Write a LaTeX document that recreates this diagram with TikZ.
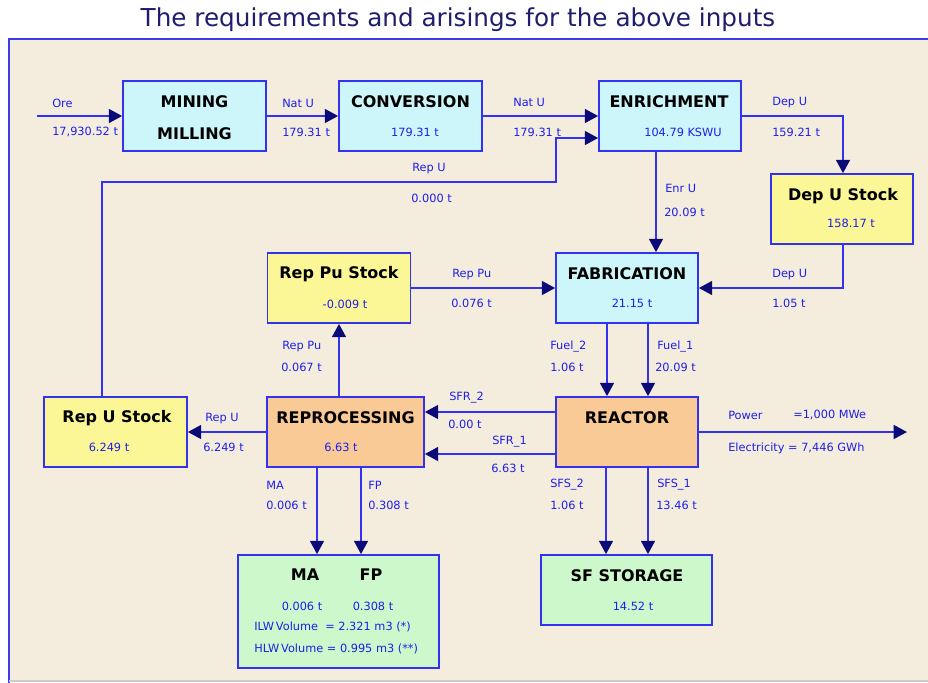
\documentclass[tikz,border=0pt]{standalone}
\usepackage{fontspec}
\setmainfont{DejaVu Sans}
\usetikzlibrary{arrows.meta,calc}
\definecolor{panelbg}{RGB}{244,237,221}
\definecolor{panelline}{RGB}{60,60,235}
\definecolor{flowblue}{RGB}{50,50,240}
\definecolor{tipnavy}{RGB}{10,10,120}
\definecolor{labelblue}{RGB}{30,30,235}
\definecolor{titlenavy}{RGB}{30,30,110}
\definecolor{cyanfill}{RGB}{204,246,250}
\definecolor{yellowfill}{RGB}{251,246,150}
\definecolor{orangefill}{RGB}{249,201,150}
\definecolor{greenfill}{RGB}{204,248,204}
\tikzset{
  box/.style={draw=flowblue, line width=1.3pt, inner sep=0pt},
  bw/.style={minimum width=#1*0.75pt},
  bh/.style={minimum height=#1*0.75pt},
  cyanbox/.style={box, fill=cyanfill},
  yellowbox/.style={box, fill=yellowfill},
  orangebox/.style={box, fill=orangefill},
  greenbox/.style={box, fill=greenfill},
  btitle/.style={inner sep=0pt, text=black, font=\fontsize{12pt}{14pt}\selectfont\bfseries},
  bval/.style={inner sep=0pt, text=labelblue, font=\fontsize{8.5pt}{10pt}\selectfont},
  lbl/.style={inner sep=0pt, anchor=west, text=labelblue, font=\fontsize{8.5pt}{10pt}\selectfont},
  flow/.style={draw=flowblue, line width=1.2pt, -{Triangle[length=10pt,width=10.5pt,color=tipnavy]}},
}
\begin{document}
\begin{tikzpicture}[x=0.75pt,y=-0.75pt]
\useasboundingbox (0,0) rectangle (928,682);
\fill[white] (0,0) rectangle (928,682);
% panel
\fill[panelbg] (9,39) rectangle (940,680);
\draw[panelline, line width=1.2pt] (9,690) -- (9,39) -- (940,39);
\draw[black!20, line width=1pt] (9,681) -- (940,681);
% title
\node[inner sep=0pt, text=titlenavy, font=\fontsize{18.5pt}{22pt}\selectfont] (title) at (458,20) {The requirements and arisings for the above inputs};

% boxes
\node[cyanbox, bw=143, bh=70] (mining) at (194.5,116) {};
\node[cyanbox, bw=143, bh=70] (conv) at (410.5,116) {};
\node[cyanbox, bw=142, bh=70] (enrich) at (670,116) {};
\node[yellowbox, bw=142, bh=70] (depu) at (842,209) {};
\node[yellowbox, bw=143, bh=70] (reppu) at (339,288) {};
\node[cyanbox, bw=142, bh=70] (fab) at (627,288) {};
\node[yellowbox, bw=143, bh=70] (repu) at (115.5,432) {};
\node[orangebox, bw=157, bh=70] (repro) at (345.5,432) {};
\node[orangebox, bw=142, bh=70] (reactor) at (627,432) {};
\node[greenbox, bw=201, bh=113] (mafp) at (338.5,611.5) {};
\node[greenbox, bw=171, bh=70] (sfs) at (626.5,590) {};

% box texts
\node[btitle] (mining-t) at (194.5,102) {MINING};
\node[btitle] (mining-t2) at (194.5,134) {MILLING};
\node[btitle] (conv-t) at (410.5,102) {CONVERSION};
\node[bval] (conv-v) at (415,132) {179.31 t};
\node[btitle] (enrich-t) at (669,102) {ENRICHMENT};
\node[bval] (enrich-v) at (683,132) {104.79 KSWU};
\node[btitle] (depu-t) at (843,196) {Dep U Stock};
\node[bval] (depu-v) at (851,223) {158.17 t};
\node[btitle] (reppu-t) at (339,274) {Rep Pu Stock};
\node[bval] (reppu-v) at (345,304) {-0.009 t};
\node[btitle] (fab-t) at (627,274) {FABRICATION};
\node[bval] (fab-v) at (632,303) {21.15 t};
\node[btitle] (repu-t) at (117,418) {Rep U Stock};
\node[bval] (repu-v) at (109,447) {6.249 t};
\node[btitle] (repro-t) at (345.5,418) {REPROCESSING};
\node[bval] (repro-v) at (341,447) {6.63 t};
\node[btitle] (reactor-t) at (627,418) {REACTOR};
\node[btitle] (mafp-t1) at (305,575) {MA};
\node[btitle] (mafp-t2) at (371,575) {FP};
\node[bval] (mafp-v1) at (302,606) {0.006 t};
\node[bval] (mafp-v2) at (373,606) {0.308 t};
\node[lbl] (mafp-ilw) at (254,627) {ILW\,Volume\ \ = 2.321 m3 (*)};
\node[lbl] (mafp-hlw) at (254,649) {HLW\,Volume = 0.995 m3 (**)};
\node[btitle] (sfs-t) at (627,576) {SF STORAGE};
\node[bval] (sfs-v) at (633,606) {14.52 t};

% connectors
\coordinate (ore) at (37,116);
\draw[flow] (ore) -- (mining.west);
\draw[flow] (mining.east) -- (conv.west);
\draw[flow] (conv.east) -- (enrich.west);
\coordinate (ruA) at ([xshift=-13.5*0.75pt]repu.north);
\coordinate (ruB) at (556,182);
\coordinate (ruC) at ([yshift=-22*0.75pt]enrich.west);
\draw[flow] (ruA) |- (ruB) |- (ruC);
\draw[flow] (enrich.east) -| ([xshift=1*0.75pt]depu.north);
\coordinate (euA) at ([xshift=-14*0.75pt]enrich.south);
\draw[flow] (euA) -- (euA |- fab.north);
\draw[flow] ([xshift=1*0.75pt]depu.south) |- (fab.east);
\draw[flow] (reppu.east) -- (fab.west);
\draw[flow] (reppu.south |- repro.north) -- (reppu.south);
\coordinate (f2) at ([xshift=-20*0.75pt]fab.south);
\coordinate (f1) at ([xshift=21*0.75pt]fab.south);
\draw[flow] (f2) -- (f2 |- reactor.north);
\draw[flow] (f1) -- (f1 |- reactor.north);
\coordinate (s2) at ([yshift=20*0.75pt]reactor.west);
\coordinate (s1) at ([yshift=-22*0.75pt]reactor.west);
\draw[flow] (s2) -- (s2 -| repro.east);
\draw[flow] (s1) -- (s1 -| repro.east);
\draw[flow] (repro.west) -- (repu.east);
\coordinate (pw) at (907,432);
\draw[flow] (reactor.east) -- (pw);
\coordinate (maA) at (317,0);
\coordinate (fpA) at (361,0);
\draw[flow] (maA |- repro.south) -- (maA |- mafp.north);
\draw[flow] (fpA |- repro.south) -- (fpA |- mafp.north);
\coordinate (sA) at (606,0);
\coordinate (sB) at (648,0);
\draw[flow] (sA |- reactor.south) -- (sA |- sfs.north);
\draw[flow] (sB |- reactor.south) -- (sB |- sfs.north);

% flow labels
\node[lbl] (l-ore) at (52,103) {Ore};
\node[lbl] (l-ore-v) at (52,132) {17,930.52 t};
\node[lbl] (l-nu1) at (282,103) {Nat U};
\node[lbl] (l-nu1-v) at (282,132) {179.31 t};
\node[lbl] (l-nu2) at (513,102) {Nat U};
\node[lbl] (l-nu2-v) at (513,132) {179.31 t};
\node[lbl] (l-ru) at (412,169) {Rep U};
\node[lbl] (l-ru-v) at (411,198) {0.000 t};
\node[lbl] (l-du) at (772,103) {Dep U};
\node[lbl] (l-du-v) at (772,132) {159.21 t};
\node[lbl] (l-eu) at (665,188) {Enr U};
\node[lbl] (l-eu-v) at (664,212) {20.09 t};
\node[lbl] (l-rp) at (452,275) {Rep Pu};
\node[lbl] (l-rp-v) at (451,303) {0.076 t};
\node[lbl] (l-du2) at (772,275) {Dep U};
\node[lbl] (l-du2-v) at (772,303) {1.05 t};
\node[lbl] (l-rp2) at (282,347) {Rep Pu};
\node[lbl] (l-rp2-v) at (281,367) {0.067 t};
\node[lbl] (l-f2) at (550,347) {Fuel\_2};
\node[lbl] (l-f2-v) at (550,367) {1.06 t};
\node[lbl] (l-f1) at (657,347) {Fuel\_1};
\node[lbl] (l-f1-v) at (655,367) {20.09 t};
\node[lbl] (l-ru2) at (205,419) {Rep U};
\node[lbl] (l-ru2-v) at (203,447) {6.249 t};
\node[lbl] (l-s2) at (449,398) {SFR\_2};
\node[lbl] (l-s2-v) at (448,424) {0.00 t};
\node[lbl] (l-s1) at (492,442) {SFR\_1};
\node[lbl] (l-s1-v) at (491,468) {6.63 t};
\node[lbl] (l-pw) at (728,415) {Power};
\node[lbl] (l-pw-v) at (793,415) {=1,000 MWe};
\node[lbl] (l-el) at (728,448) {Electricity = 7,446 GWh};
\node[lbl] (l-ma) at (266,485) {MA};
\node[lbl] (l-ma-v) at (266,505) {0.006 t};
\node[lbl] (l-fp) at (368,485) {FP};
\node[lbl] (l-fp-v) at (368,505) {0.308 t};
\node[lbl] (l-sfs2) at (550,485) {SFS\_2};
\node[lbl] (l-sfs2-v) at (550,505) {1.06 t};
\node[lbl] (l-sfs1) at (657,485) {SFS\_1};
\node[lbl] (l-sfs1-v) at (656,505) {13.46 t};
\end{tikzpicture}
\end{document}
